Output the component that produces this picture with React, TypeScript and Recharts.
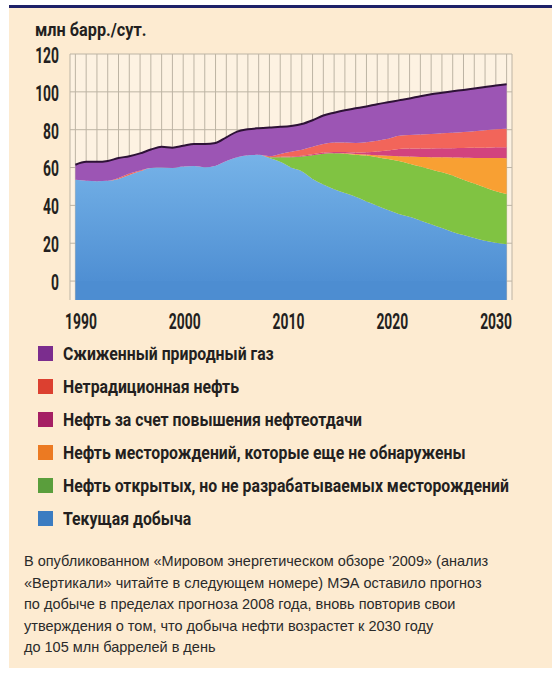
import React from 'react';
import {
  AreaChart,
  Area,
  XAxis,
  YAxis,
  CartesianGrid,
  ReferenceArea,
} from 'recharts';

const years = [
  1990, 1991, 1992, 1993, 1994, 1995, 1996, 1997, 1998, 1999,
  2000, 2001, 2002, 2003, 2004, 2005, 2006, 2007, 2008, 2009,
  2010, 2011, 2012, 2013, 2014, 2015, 2016, 2017, 2018, 2019,
  2020, 2021, 2022, 2023, 2024, 2025, 2026, 2027, 2028, 2029, 2030,
];

// млн барр./сут.
const currentProduction = [
  53.5, 53, 52.8, 53, 54, 56, 58, 59.8, 60, 59.8,
  60.5, 60.8, 60.2, 61, 63.5, 65.5, 66.5, 66.7, 65, 63,
  60, 58, 54, 51, 48.5, 46.5, 44.5, 42, 39.8, 37.5,
  35.5, 34, 32, 30, 28, 26, 24.3, 22.7, 21.3, 20.2, 19.5,
];
const discoveredUndeveloped = [
  0, 0, 0, 0, 0, 0, 0, 0, 0, 0,
  0, 0, 0, 0, 0, 0, 0, 0, 0.5, 2.5,
  5.5, 7.8, 12.5, 16.3, 19, 20.8, 22.3, 24.3, 25.7, 27,
  28, 28, 28.5, 29, 29.5, 29.8, 29.2, 28.8, 28.2, 27.3, 26.5,
];
const yetToFind = [
  0, 0, 0, 0, 0, 0, 0, 0, 0, 0,
  0, 0, 0, 0, 0, 0, 0, 0, 0, 0,
  0, 0, 0, 0, 0, 0.2, 0.4, 0.6, 1, 1.7,
  2.5, 3.8, 5.1, 6.5, 7.9, 9.5, 11.7, 13.6, 15.5, 17.5, 18.9,
];
const enhancedRecovery = [
  0, 0, 0, 0, 0, 0, 0, 0, 0, 0,
  0, 0, 0, 0, 0, 0, 0, 0, 0, 0.2,
  0.3, 0.4, 0.5, 0.6, 0.7, 0.7, 0.8, 1.2, 2, 2.8,
  3.8, 4.2, 4.4, 4.6, 4.8, 4.9, 5.1, 5.3, 5.5, 5.7, 5.8,
];
const unconventional = [
  0, 0, 0, 0, 0.5, 0.8, 0.5, 0, 0, 0,
  0, 0, 0, 0, 0, 0, 0, 0, 0.5, 1.5,
  2.5, 3.2, 4, 4.5, 5, 5, 5, 5.3, 5.7, 6.2,
  7, 7.2, 7.4, 7.6, 7.9, 8.2, 8.5, 8.8, 9.2, 9.5, 9.8,
];
const naturalGasLiquids = [
  8, 10, 10.2, 10.5, 10.5, 9.2, 9, 9.7, 11, 10.7,
  11, 11.7, 12.3, 12, 12.5, 13.5, 13.7, 14.1, 15.2, 14.3,
  13.7, 13.6, 14, 15.1, 15.8, 17.1, 18.3, 18.9, 19.3, 19.3,
  18.7, 19.3, 20.3, 21, 21.4, 21.9, 22.2, 22.6, 22.9, 23.2, 23.5,
];

const yTicks = [0, 20, 40, 60, 80, 100, 120];
const xTicks = [1990, 2000, 2010, 2020, 2030];

const data = years.map((year, i) => ({
  year,
  current: currentProduction[i],
  discovered: discoveredUndeveloped[i],
  ytf: yetToFind[i],
  eor: enhancedRecovery[i],
  unconv: unconventional[i],
  ngl: naturalGasLiquids[i],
}));

// bottom to top stacking order
const series = [
  { key: 'current', name: 'Текущая добыча', fill: 'url(#blueFill)', legend: '#3b7cc1' },
  { key: 'discovered', name: 'Нефть открытых, но не разрабатываемых месторождений', fill: '#80c342', legend: '#5a9e3c' },
  { key: 'ytf', name: 'Нефть месторождений, которые еще не обнаружены', fill: '#f8a033', legend: '#ec7a22' },
  { key: 'eor', name: 'Нефть за счет повышения нефтеотдачи', fill: '#d2437e', legend: '#a51f63' },
  { key: 'unconv', name: 'Нетрадиционная нефть', fill: '#f2655a', legend: '#dc4030' },
  { key: 'ngl', name: 'Сжиженный природный газ', fill: '#9c55b4', legend: '#7b2d8e' },
];

const xDomain: [number, number] = [1989.5, 2030.5];
const gridYears = [1989.5, ...years, 2030.5];

const CHART_W = 552;
const MARGIN = { top: 54, right: 40, bottom: 10, left: 0 };
const Y_AXIS_W = 70;

const font = 'Roboto, "DejaVu Sans", sans-serif';
const ink = '#231f20';

const YTick = (props: any) => {
  const { x, y, payload } = props;
  return (
    <text
      transform={`translate(${x},${y + 1}) scale(0.63,1)`}
      textAnchor="end"
      dy="0.36em"
      fill={ink}
      fontSize={22}
      fontWeight={700}
      fontFamily={font}
    >
      {payload.value}
    </text>
  );
};

const XTick = (props: any) => {
  const { x, y, payload } = props;
  return (
    <text
      transform={`translate(${x},${y + 28.5}) scale(0.63,1)`}
      textAnchor="middle"
      fill={ink}
      fontSize={22}
      fontWeight={700}
      fontFamily={font}
    >
      {payload.value}
    </text>
  );
};

// one thin vertical line per year, like the original's grid
const verticalLines = (args: any) => {
  const left = args?.offset?.left ?? MARGIN.left + Y_AXIS_W;
  const w = args?.offset?.width ?? CHART_W - MARGIN.right - left;
  return gridYears.map((yr) => left + ((yr - xDomain[0]) / (xDomain[1] - xDomain[0])) * w);
};

const App: React.FC = () => {
  return (
    <div style={{ position: 'absolute', left: 0, top: 0, width: 552, height: 674, background: '#fff', overflow: 'hidden' }}>
      <div style={{ position: 'absolute', left: 9, top: 8, width: 543, height: 660, background: '#fdebd1' }} />
      <div style={{ position: 'absolute', left: 9, top: 5, width: 543, height: 3, background: '#1d2168' }} />

      <div
        style={{
          position: 'absolute',
          left: 35,
          top: 18,
          fontFamily: font,
          fontWeight: 700,
          fontSize: 19,
          color: ink,
          whiteSpace: 'nowrap',
          transform: 'scaleX(0.855)',
          transformOrigin: 'left center',
        }}
      >
        млн барр./сут.
      </div>

      <div style={{ position: 'absolute', left: 0, top: 0 }}>
        <AreaChart width={CHART_W} height={340} data={data} margin={MARGIN}>
          <defs>
            <linearGradient id="blueFill" x1="0" y1="0" x2="0" y2="1">
              <stop offset="0%" stopColor="#76b3e8" />
              <stop offset="100%" stopColor="#4f8fd3" />
            </linearGradient>
          </defs>
          <CartesianGrid
            xAxisId="data"
            stroke="#bdb4a4"
            fill="#fdf2e2"
            verticalCoordinatesGenerator={verticalLines}
            horizontalValues={yTicks}
          />
          <XAxis xAxisId="data" dataKey="year" type="number" domain={xDomain} height={0} hide />
          <XAxis
            xAxisId="labels"
            dataKey="year"
            type="number"
            domain={[1988.94, 2031.54]}
            allowDataOverflow
            ticks={xTicks}
            height={30}
            tickSize={0}
            tickMargin={0}
            axisLine={false}
            tickLine={false}
            tick={<XTick />}
          />
          <YAxis
            type="number"
            domain={[-10, 120]}
            allowDataOverflow
            ticks={yTicks}
            width={Y_AXIS_W}
            tickSize={0}
            tickMargin={11}
            axisLine={false}
            tickLine={false}
            tick={<YTick />}
          />
          <ReferenceArea
            xAxisId="data"
            x1={1990}
            x2={2030}
            y1={-10}
            y2={0}
            fill="#4d8dd1"
            fillOpacity={1}
            stroke="none"
          />
          {series.map((s) => (
            <Area
              key={s.key}
              xAxisId="data"
              type="monotone"
              dataKey={s.key}
              name={s.name}
              stackId="oil"
              fill={s.fill}
              fillOpacity={1}
              stroke={s.key === 'ngl' ? '#2d1236' : 'none'}
              strokeWidth={2}
              isAnimationActive={false}
            />
          ))}
        </AreaChart>
      </div>

      <div style={{ position: 'absolute', left: 38, top: 337 }}>
        {[...series].reverse().map((s) => (
          <div key={s.key} style={{ height: 33, display: 'flex', alignItems: 'center' }}>
            <div style={{ width: 15, height: 15, background: s.legend, marginRight: 10, flex: 'none' }} />
            <span
              style={{
                display: 'inline-block',
                fontFamily: font,
                fontWeight: 700,
                fontSize: 19,
                color: ink,
                whiteSpace: 'nowrap',
                transform: 'scaleX(0.832)',
                transformOrigin: 'left center',
              }}
            >
              {s.name}
            </span>
          </div>
        ))}
      </div>

      <div
        style={{
          position: 'absolute',
          left: 24,
          top: 551,
          fontFamily: '"Liberation Sans", Arial, sans-serif',
          fontSize: 14.5,
          lineHeight: '21.5px',
          color: '#2a2a2a',
          whiteSpace: 'nowrap',
        }}
      >
        В опубликованном «Мировом энергетическом обзоре ’2009» (анализ
        <br />
        «Вертикали» читайте в следующем номере) МЭА оставило прогноз
        <br />
        по добыче в пределах прогноза 2008 года, вновь повторив свои
        <br />
        утверждения о том, что добыча нефти возрастет к 2030 году
        <br />
        до 105 млн баррелей в день
      </div>
    </div>
  );
};

export default App;
